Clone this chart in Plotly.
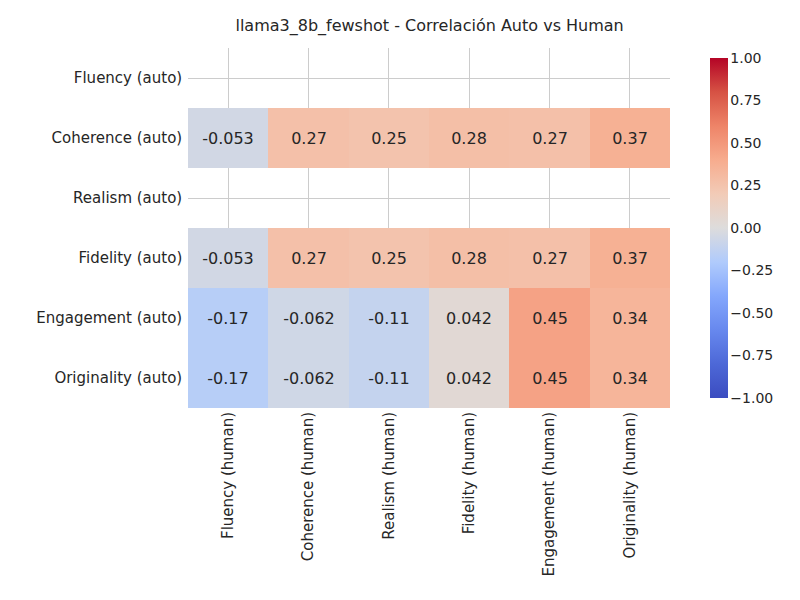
import plotly.graph_objects as go

rows = ["Fluency (auto)", "Coherence (auto)", "Realism (auto)", "Fidelity (auto)", "Engagement (auto)", "Originality (auto)"]
cols = ["Fluency (human)", "Coherence (human)", "Realism (human)", "Fidelity (human)", "Engagement (human)", "Originality (human)"]
vals = [
    [None, None, None, None, None, None],
    [-0.053, 0.27, 0.25, 0.28, 0.27, 0.37],
    [None, None, None, None, None, None],
    [-0.053, 0.27, 0.25, 0.28, 0.27, 0.37],
    [-0.17, -0.062, -0.11, 0.042, 0.45, 0.34],
    [-0.17, -0.062, -0.11, 0.042, 0.45, 0.34],
]
text = [["" if v is None else f"{v:.2g}" for v in r] for r in vals]

coolwarm = [[0.0, "#3b4cc0"], [0.1, "#4d68d7"], [0.2, "#6788ee"], [0.3, "#84a7fc"],
            [0.4, "#b0cbfc"], [0.5, "#dddcdc"], [0.6, "#f2cbb7"], [0.7, "#f7ac8e"],
            [0.8, "#ee8468"], [0.9, "#d65244"], [1.0, "#b40426"]]

fig = go.Figure(go.Heatmap(
    z=vals, x=cols, y=rows, zmin=-1, zmax=1, colorscale=coolwarm,
    text=text, texttemplate="%{text}", textfont=dict(size=16, color="#262626"),
    xgap=0, ygap=0, hoverongaps=False,
    colorbar=dict(x=1.062, xanchor="left", len=1, y=0.5, yanchor="middle", thickness=18,
                  tickvals=[-1, -0.75, -0.5, -0.25, 0, 0.25, 0.5, 0.75, 1],
                  ticktext=["−1.00", "−0.75", "−0.50", "−0.25", "0.00", "0.25", "0.50", "0.75", "1.00"],
                  tickfont=dict(size=14, color="#262626"), outlinewidth=0, ticks="outside", ticklen=0),
))
fig.update_layout(
    width=800, height=600, plot_bgcolor="white", paper_bgcolor="white",
    margin=dict(l=180, r=138, t=40, b=200),
    font=dict(family="DejaVu Sans", color="#262626", size=15),
    title=dict(text="llama3_8b_fewshot - Correlación Auto vs Human", x=0.527, xanchor="center", y=0.98, font=dict(size=16)),
)
fig.update_xaxes(showgrid=True, gridcolor="#cccccc", tickangle=-90, ticks="", showline=False, zeroline=False)
fig.update_yaxes(showgrid=True, gridcolor="#cccccc", autorange="reversed", ticks="", showline=False, zeroline=False, ticksuffix=" ")
fig.write_html("out.html")
